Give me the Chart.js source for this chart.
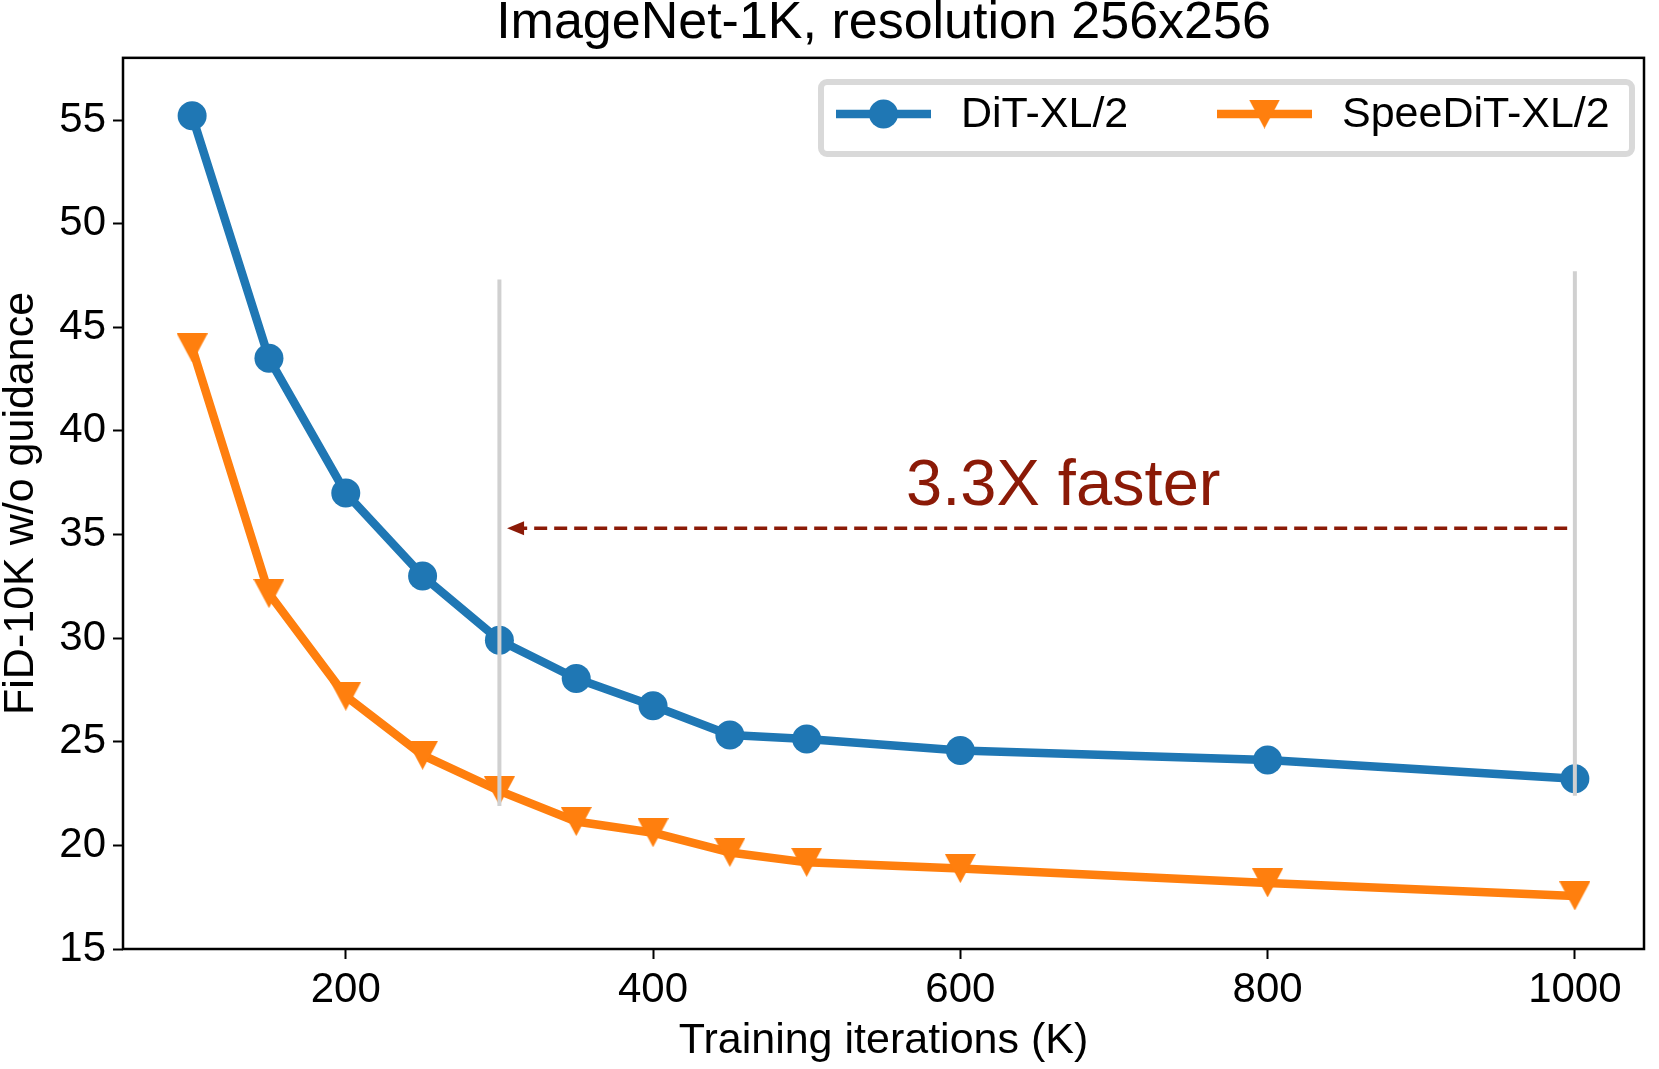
<!DOCTYPE html>
<html>
<head>
<meta charset="utf-8">
<title>ImageNet-1K FID</title>
<script src="https://cdn.jsdelivr.net/npm/chart.js@4.4.1/dist/chart.umd.min.js"></script>
<style>
  html, body { margin: 0; padding: 0; background: #fff; }
  canvas { display: block; }
</style>
</head>
<body>
<canvas id="chart" width="1659" height="1069" style="width:1659px;height:1069px"></canvas>
<script>
// data
const iters = [100, 150, 200, 250, 300, 350, 400, 450, 500, 600, 800, 1000];
const ditFid = [55.2, 43.5, 37.0, 33.0, 29.9, 28.05, 26.74, 25.33, 25.13, 24.58, 24.12, 23.22];
const speeditFid = [44.0, 32.15, 27.2, 24.35, 22.63, 21.15, 20.61, 19.66, 19.18, 18.88, 18.19, 17.56];
const seriesNames = ['DiT-XL/2', 'SpeeDiT-XL/2'];

const xTicks = [200, 400, 600, 800, 1000];
const yTicks = [15, 20, 25, 30, 35, 40, 45, 50, 55];

// annotation
const guideIters = [300, 1000];
const guideFrom = [21.9, 22.4];
const guideTo = [47.3, 47.7];
const arrowFrom = 995;
const arrowTo = 305;
const arrowFid = 35.3;
const speedupText = '3.3X faster';
const speedupIter = 667;
const speedupFid = 36.4;

const FONT = '"Liberation Sans", Arial, Helvetica, sans-serif';
const BLUE = '#1f77b4';
const ORANGE = '#ff7f0e';
const DARKRED = '#8b1a07';

// matplotlib style 'v' marker (bbox centred on the point)
function makeTriangle(w, h, color){
    const c = document.createElement('canvas');
    c.width = w; c.height = h;
    const g = c.getContext('2d');
    g.fillStyle = color;
    g.beginPath();
    g.moveTo(0, 0);
    g.lineTo(w, 0);
    g.lineTo(w / 2, h);
    g.closePath();
    g.fill();
    return c;
}
const triMarker = makeTriangle(31, 29, ORANGE);

const overlay = {
    id: 'overlay',
    afterDatasetsDraw(chart){
        const ctx = chart.ctx;
        const xs = chart.scales.x, ys = chart.scales.y;
        ctx.save();
        // grey guide lines
        ctx.strokeStyle = '#d0d0d0';
        ctx.lineWidth = 4;
        for(let i = 0; i < guideIters.length; i++){
            const gx = xs.getPixelForValue(guideIters[i]);
            ctx.beginPath();
            ctx.moveTo(gx, ys.getPixelForValue(guideFrom[i]));
            ctx.lineTo(gx, ys.getPixelForValue(guideTo[i]));
            ctx.stroke();
        }
        // dashed arrow
        const ay = ys.getPixelForValue(arrowFid);
        const tip = xs.getPixelForValue(arrowTo);
        const tail = xs.getPixelForValue(arrowFrom);
        ctx.strokeStyle = DARKRED;
        ctx.fillStyle = DARKRED;
        ctx.lineWidth = 3.5;
        ctx.setLineDash([13, 7]);
        ctx.beginPath();
        ctx.moveTo(tail, ay);
        ctx.lineTo(tip + 14, ay);
        ctx.stroke();
        ctx.setLineDash([]);
        ctx.beginPath();
        ctx.moveTo(tip, ay);
        ctx.lineTo(tip + 17, ay - 7);
        ctx.lineTo(tip + 17, ay + 7);
        ctx.closePath();
        ctx.fill();
        // label
        ctx.font = '65px ' + FONT;
        ctx.textAlign = 'center';
        ctx.textBaseline = 'alphabetic';
        ctx.fillText(speedupText, xs.getPixelForValue(speedupIter), ys.getPixelForValue(speedupFid));
        ctx.restore();
    },
    afterDraw(chart){
        const ctx = chart.ctx;
        const a = chart.chartArea;
        ctx.save();
        // axes frame
        ctx.strokeStyle = '#000';
        ctx.lineWidth = 2.5;
        ctx.strokeRect(a.left, a.top, a.right - a.left, a.bottom - a.top);

        // legend
        const bx = 821, by = 82, bw = 811, bh = 72;
        ctx.beginPath();
        ctx.roundRect(bx, by, bw, bh, 6);
        ctx.fillStyle = '#fff';
        ctx.fill();
        ctx.strokeStyle = '#d9d9d9';
        ctx.lineWidth = 6;
        ctx.stroke();

        const cy = 114;
        const entries = [{x0: 836, x1: 931, tx: 961}, {x0: 1217, x1: 1312, tx: 1342}];
        chart.data.datasets.forEach((ds, i) => {
            const e = entries[i];
            ctx.strokeStyle = ds.borderColor;
            ctx.lineWidth = ds.borderWidth;
            ctx.beginPath();
            ctx.moveTo(e.x0, cy);
            ctx.lineTo(e.x1, cy);
            ctx.stroke();
            const mx = (e.x0 + e.x1) / 2;
            if(ds.pointStyle === 'circle'){
                ctx.fillStyle = ds.backgroundColor;
                ctx.beginPath();
                ctx.arc(mx, cy, ds.pointRadius, 0, Math.PI * 2);
                ctx.fill();
            } else {
                const m = ds.pointStyle;
                ctx.drawImage(m, mx - m.width / 2, cy - m.height / 2);
            }
            ctx.fillStyle = '#000';
            ctx.font = '43px ' + FONT;
            ctx.textAlign = 'left';
            ctx.textBaseline = 'middle';
            ctx.fillText(ds.label, e.tx, cy + 1);
        });
        ctx.restore();
    }
};

const tickFont = {family: FONT, size: 42};
const titleFont = {family: FONT, size: 43, lineHeight: 1};
const gridOpts = {
    drawOnChartArea: false,
    drawTicks: true,
    tickLength: 10,
    tickWidth: 2,
    tickColor: '#000',
    color: '#000'
};

new Chart(document.getElementById('chart'), {
    type: 'line',
    data: {
        datasets: [{
            label: seriesNames[0],
            data: iters.map((x, i) => ({x: x, y: ditFid[i]})),
            borderColor: BLUE,
            backgroundColor: BLUE,
            borderWidth: 8.5,
            borderJoinStyle: 'round',
            pointStyle: 'circle',
            pointRadius: 14.5,
            pointBorderWidth: 0,
            pointBackgroundColor: BLUE,
            tension: 0
        }, {
            label: seriesNames[1],
            data: iters.map((x, i) => ({x: x, y: speeditFid[i]})),
            borderColor: ORANGE,
            backgroundColor: ORANGE,
            borderWidth: 8.5,
            borderJoinStyle: 'round',
            pointStyle: triMarker,
            pointRadius: 15,
            pointBorderWidth: 0,
            tension: 0
        }]
    },
    options: {
        responsive: false,
        animation: false,
        events: [],
        layout: {padding: {left: 0, right: 5, top: 0, bottom: 0}},
        plugins: {
            legend: {display: false},
            tooltip: {enabled: false},
            title: {
                display: true,
                text: 'ImageNet-1K, resolution 256x256',
                fullSize: false,
                color: '#000',
                font: {family: FONT, size: 52, weight: 'normal', lineHeight: 0.92},
                padding: {top: 0, bottom: 10}
            }
        },
        scales: {
            x: {
                type: 'linear',
                min: 55,
                max: 1045,
                afterBuildTicks: s => { s.ticks = xTicks.map(v => ({value: v})); },
                afterFit: s => { s.height = 120; },
                ticks: {font: tickFont, color: '#000', padding: 6, maxRotation: 0, autoSkip: false,
                        callback: v => String(v)},
                grid: gridOpts,
                border: {display: false},
                title: {display: true, text: 'Training iterations (K)', color: '#000',
                        font: titleFont, padding: {top: 0, bottom: 6}}
            },
            y: {
                type: 'linear',
                min: 15,
                max: 58,
                afterBuildTicks: s => { s.ticks = yTicks.map(v => ({value: v})); },
                afterFit: s => { s.width = 123; },
                ticks: {font: tickFont, color: '#000', padding: 7, autoSkip: false,
                        callback: v => String(v)},
                grid: gridOpts,
                border: {display: false},
                title: {display: true, text: 'FiD-10K w/o guidance', color: '#000',
                        font: titleFont, padding: {top: 0, bottom: 0}}
            }
        }
    },
    plugins: [overlay]
});
</script>
</body>
</html>
